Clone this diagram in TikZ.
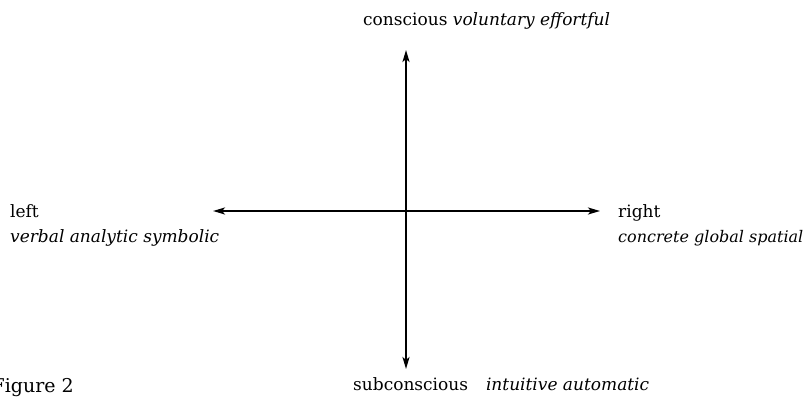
\documentclass[tikz,border=0pt]{standalone}
\usepackage{fontspec}
\setmainfont{DejaVu Serif}
\usetikzlibrary{arrows.meta}
\begin{document}
\begin{tikzpicture}[x=1pt,y=-1pt,
  axis/.style={line width=2pt,-{Stealth[length=12pt,width=7pt,inset=3pt]}},
  lbl/.style={inner sep=0pt,anchor=base west,font=\fontsize{17}{20}\selectfont}]
\useasboundingbox (0,0) rectangle (808,401);
\coordinate (c) at (406,211);
\coordinate (t) at (406,50);
\coordinate (b) at (406,369);
\coordinate (l) at (213,211);
\coordinate (r) at (600,211);
\draw[axis] (c) -- (t);
\draw[axis] (c) -- (b);
\draw[axis] (c) -- (l);
\draw[axis] (c) -- (r);
\node[lbl] (tl) at (363,26) {conscious \textit{voluntary effortful}};
\node[lbl] (bl) at (353,390) {subconscious\hspace{18pt}\textit{intuitive automatic}};
\node[lbl] (ll1) at (10,217) {left};
\node[lbl] (ll2) at (10,242) {\textit{verbal analytic symbolic}};
\node[lbl] (rl1) at (618,217) {right};
\node[lbl,font=\fontsize{16}{19}\selectfont] (rl2) at (618,242) {\textit{concrete global spatial}};
\node[lbl,anchor=base east,font=\fontsize{19}{22}\selectfont] (fig) at (74,392) {Figure 2};
\end{tikzpicture}
\end{document}
